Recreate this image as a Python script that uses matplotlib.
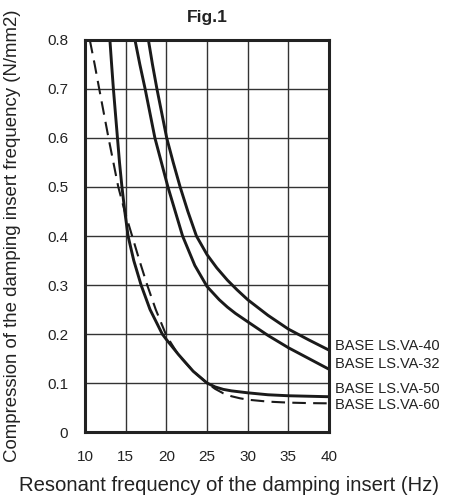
import matplotlib
matplotlib.use("Agg")
import matplotlib.pyplot as plt

plt.rcParams['font.family'] = ['Liberation Sans', 'DejaVu Sans']

# curves (x = Hz, y = N/mm2)
va40_x = [17.8, 18.3, 18.85, 19.45, 20.05, 20.85, 21.7, 22.65, 23.7, 25, 26.2, 27.5, 28.7, 30, 32.5, 35, 37.5, 40]
va40_y = [0.8, 0.75, 0.7, 0.65, 0.6, 0.55, 0.5, 0.45, 0.4, 0.362, 0.335, 0.31, 0.29, 0.27, 0.238, 0.21, 0.188, 0.167]

va32_x = [16.15, 16.75, 17.4, 18.0, 18.6, 19.4, 20.2, 21.1, 22.0, 23.5, 25, 26.5, 27.5, 28.5, 30, 32.5, 35, 37.5, 40]
va32_y = [0.8, 0.75, 0.7, 0.65, 0.6, 0.55, 0.5, 0.45, 0.4, 0.34, 0.297, 0.27, 0.255, 0.242, 0.225, 0.197, 0.172, 0.15, 0.128]

va50_x = [13.07, 13.28, 13.5, 13.75, 14.0, 14.25, 14.55, 14.9, 15.3, 16.0, 16.9, 18.0, 19.5, 20.0, 21.5, 23.3, 25, 26, 27, 28, 30, 32.5, 35, 37.5, 40]
va50_y = [0.8, 0.75, 0.7, 0.65, 0.6, 0.55, 0.5, 0.45, 0.4, 0.35, 0.3, 0.25, 0.2, 0.189, 0.158, 0.124, 0.1, 0.092, 0.087, 0.084, 0.08, 0.076, 0.074, 0.073, 0.072]

va60_x = [10.6, 11.2, 11.76, 12.33, 12.9, 13.5, 14.1, 14.9, 15.8, 16.7, 17.65, 18.7, 20.0, 21.5, 23.3, 25, 26, 27, 28, 29, 30, 32.5, 35, 37.5, 40]
va60_y = [0.8, 0.75, 0.7, 0.65, 0.6, 0.55, 0.5, 0.45, 0.4, 0.35, 0.3, 0.25, 0.197, 0.157, 0.124, 0.1, 0.088, 0.079, 0.073, 0.069, 0.066, 0.062, 0.06, 0.059, 0.0585]

x_ticks = [10, 15, 20, 25, 30, 35, 40]
y_ticks = [0, 0.1, 0.2, 0.3, 0.4, 0.5, 0.6, 0.7, 0.8]
y_labels = ['0', '0.1', '0.2', '0.3', '0.4', '0.5', '0.6', '0.7', '0.8']

names = ['BASE LS.VA-40', 'BASE LS.VA-32', 'BASE LS.VA-50', 'BASE LS.VA-60']
name_y = [0.175, 0.138, 0.087, 0.055]

fig = plt.figure(figsize=(4.59, 4.98), dpi=100)
ax = fig.add_axes([0.185, 0.1325, 0.532, 0.7872])

for xs, ys in [(va40_x, va40_y), (va32_x, va32_y), (va50_x, va50_y)]:
    ax.plot(xs, ys, color='#1a1a1a', lw=2.1, solid_capstyle='butt', solid_joinstyle='round')
ax.plot(va60_x, va60_y, color='#1a1a1a', lw=1.5, dashes=(6.5, 3.5))

ax.set_xlim(10, 40)
ax.set_ylim(0, 0.8)
ax.set_xticks(x_ticks)
ax.set_yticks(y_ticks)
ax.set_yticklabels(y_labels)
ax.tick_params(length=0, labelsize=11, colors='#222222')
ax.tick_params(axis='x', pad=13)
ax.tick_params(axis='y', pad=12)
ax.grid(True, color='#333333', lw=1.0)
for s in ax.spines.values():
    s.set_linewidth(2.2)
    s.set_color('#222222')

ax.set_xlabel('Resonant frequency of the damping insert (Hz)', fontsize=14.6, color='#222222')
ax.xaxis.set_label_coords(0.5 + 22 / 244, -0.112)
ax.set_ylabel('Compression of the damping insert frequency (N/mm2)', fontsize=13.4, color='#222222')
ax.yaxis.set_label_coords(-64 / 244, 0.5)
ax.set_title('Fig.1', fontsize=12.5, fontweight='bold', color='#222222', pad=13)

for n, yy in zip(names, name_y):
    ax.text(1.025, yy / 0.8, n, transform=ax.transAxes, fontsize=10.5, color='#222222', va='center')

fig.savefig('out.png', dpi=100)
